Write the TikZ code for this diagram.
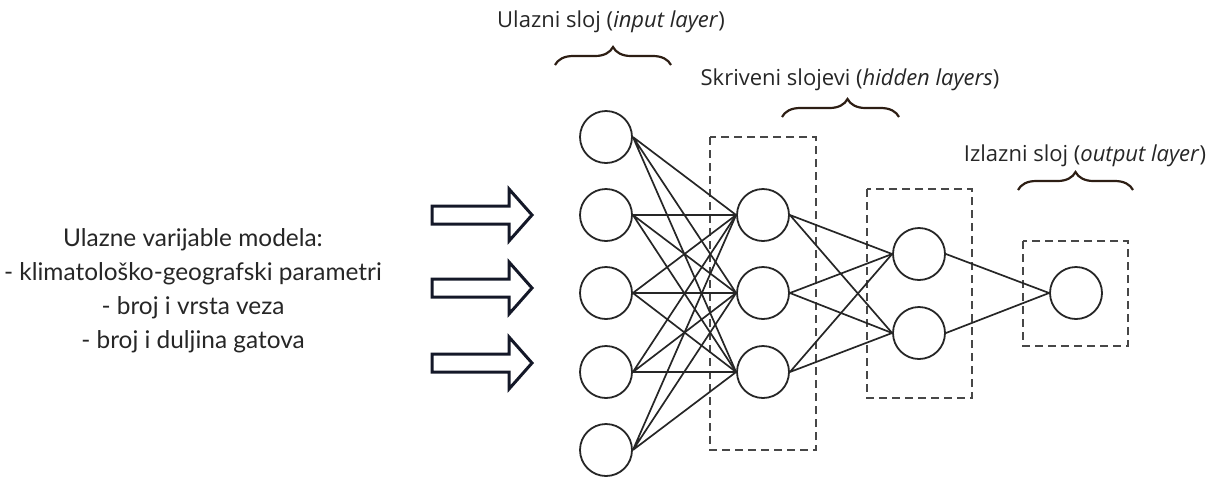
\documentclass[tikz,border=0pt]{standalone}
\usepackage{fontspec}
\setmainfont{Open Sans}
\newfontfamily\varsfont{Lato}
\usetikzlibrary{decorations.pathreplacing}
\definecolor{inkgray}{RGB}{38,38,38}
\definecolor{bracebrown}{RGB}{45,30,20}
\definecolor{arrownavy}{RGB}{20,24,40}
\tikzset{
  neuron/.style={circle, draw=inkgray, line width=0.9pt, minimum size=26pt, inner sep=0pt},
  layerbox/.style={draw=inkgray!85, dash pattern=on 4pt off 2.5pt, line width=0.9pt},
  link/.style={draw=inkgray, line width=0.85pt},
  layerbrace/.style={decorate, decoration={brace, amplitude=9pt, aspect=#1}, draw=bracebrown, line width=1.1pt},
  layerbrace/.default=0.5,
  inarrow/.style={draw=arrownavy, line width=1.5pt, line join=miter},
  layerlabel/.style={font=\fontsize{11}{13}\selectfont, text=inkgray, inner sep=0pt},
}
\begin{document}
\begin{tikzpicture}[x=0.5pt, y=-0.5pt]
  \useasboundingbox (0,0) rectangle (1208,484);
  %\draw[lightgray] (0,0) grid[step=100] (1208,484);

  % input variables
  \node[align=center, text=inkgray, font=\varsfont\fontsize{12.2}{17}\selectfont] (vars) at (193,291)
    {Ulazne varijable modela:\\- klimatološko-geografski parametri\\- broj i vrsta veza\\- broj i duljina gatova};

  % block arrows
  \draw[inarrow] (432,206) -- (509,206) -- (509,189) -- (532,215) -- (509,241) -- (509,224) -- (432,224) -- cycle;
  \draw[inarrow] (432,279) -- (509,279) -- (509,262) -- (532,288) -- (509,314) -- (509,297) -- (432,297) -- cycle;
  \draw[inarrow] (432,354) -- (509,354) -- (509,337) -- (532,363) -- (509,389) -- (509,372) -- (432,372) -- cycle;

  % dashed layer boxes
  \draw[layerbox] (710,137) rectangle (816,450);
  \draw[layerbox] (867,189) rectangle (972,398);
  \draw[layerbox] (1023,241) rectangle (1128,346);

  % neurons
  \node[neuron] (in1) at (606,137) {};
  \node[neuron] (in2) at (606,215) {};
  \node[neuron] (in3) at (606,293) {};
  \node[neuron] (in4) at (606,372) {};
  \node[neuron] (in5) at (606,450) {};
  \node[neuron] (ha1) at (763,215) {};
  \node[neuron] (ha2) at (763,293) {};
  \node[neuron] (ha3) at (763,372) {};
  \node[neuron] (hb1) at (919,254) {};
  \node[neuron] (hb2) at (919,333) {};
  \node[neuron] (out) at (1076,293) {};

  % connections
  \draw[link] (in1.east) -- (ha1.west) (in1.east) -- (ha2.west) (in1.east) -- (ha3.west);
  \draw[link] (in2.east) -- (ha1.west) (in2.east) -- (ha2.west) (in2.east) -- (ha3.west);
  \draw[link] (in3.east) -- (ha1.west) (in3.east) -- (ha2.west) (in3.east) -- (ha3.west);
  \draw[link] (in4.east) -- (ha1.west) (in4.east) -- (ha2.west) (in4.east) -- (ha3.west);
  \draw[link] (in5.east) -- (ha1.west) (in5.east) -- (ha2.west) (in5.east) -- (ha3.west);
  \draw[link] (ha1.east) -- (hb1.west) (ha1.east) -- (hb2.west);
  \draw[link] (ha2.east) -- (hb1.west) (ha2.east) -- (hb2.west);
  \draw[link] (ha3.east) -- (hb1.west) (ha3.east) -- (hb2.west);
  \draw[link] (hb1.east) -- (out.west) (hb2.east) -- (out.west);

  % braces and layer names
  \draw[layerbrace] (555,65) -- (671,65);
  \node[layerlabel] (inlabel) at (611,22) {Ulazni sloj (\textit{input layer})};
  \draw[layerbrace=0.56] (782,117) -- (899,117);
  \node[layerlabel] (hidlabel) at (850,80) {Skriveni slojevi (\textit{hidden layers})};
  \draw[layerbrace] (1018,190) -- (1133,190);
  \node[layerlabel] (outlabel) at (1085,156) {Izlazni sloj (\textit{output layer})};
\end{tikzpicture}
\end{document}
